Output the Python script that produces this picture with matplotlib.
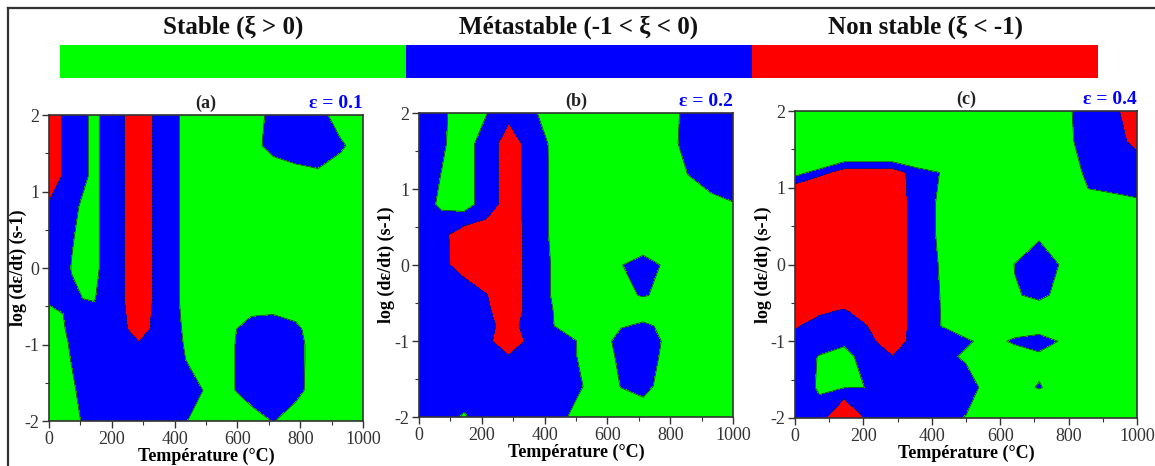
import matplotlib
matplotlib.use("Agg")
import matplotlib.pyplot as plt
from matplotlib.lines import Line2D
import numpy as np

# grid of the instability parameter xi
temps = [0, 71, 143, 214, 286, 357, 429, 500, 571, 643, 714, 786, 857, 929, 1000]
lograte = [2.0, 1.6, 1.2, 0.8, 0.4, 0.0, -0.4, -0.6, -0.8, -1.0, -1.2, -1.6, -2.0]

xi_01 = [
    [-1.5, -0.6, 0.2, -0.63, -1.66, -0.58, 0.14, 0.5, 0.5, 0.8, -0.5, -0.5, -0.4, 0.5, 0.5],
    [-1.5, -0.6, 0.2, -0.63, -1.66, -0.58, 0.14, 0.5, 0.5, 0.5, -0.5, -0.6, -0.6, -0.15, 0.5],
    [-1.5, -0.6, 0.2, -0.63, -1.66, -0.58, 0.14, 0.5, 0.5, 0.5, 0.9, 0.4, 0.2, 0.5, 0.5],
    [-0.9, -0.1, 0.2, -0.63, -1.66, -0.58, 0.14, 0.5, 0.5, 0.5, 0.5, 0.5, 0.5, 0.5, 0.5],
    [-0.5, -0.03, 0.2, -0.63, -1.66, -0.58, 0.14, 0.5, 0.5, 0.5, 0.5, 0.5, 0.5, 0.5, 0.5],
    [-0.5, 0.01, 0.2, -0.63, -1.66, -0.58, 0.14, 0.5, 0.5, 0.5, 0.5, 0.5, 0.5, 0.5, 0.5],
    [-0.2, -0.05, 0.05, -0.63, -1.66, -0.58, 0.14, 0.5, 0.5, 0.5, 0.5, 0.5, 0.5, 0.5, 0.5],
    [0.3, -0.175, -0.225, -0.565, -1.58, -0.54, 0.095, 0.5, 0.39, 0.1, 0.02, 0.2, 0.5, 0.5, 0.5],
    [0.8, -0.3, -0.5, -0.5, -1.5, -0.5, 0.05, 0.5, 0.28, -0.5, -0.5, -0.19, 0.5, 0.5, 0.5],
    [0.6, -0.09, -0.5, -0.5, -0.9, -0.5, 0.01, 0.5, 0.21, -0.5, -0.5, -0.35, 0.5, 0.5, 0.5],
    [0.5, -0.02, -0.5, -0.5, -0.5, -0.5, -0.05, 0.5, 0.21, -0.5, -0.5, -0.35, 0.5, 0.5, 0.5],
    [0.5, 0.125, -0.5, -0.5, -0.5, -0.5, -0.5, 0.08, 0.21, -0.5, -0.5, -0.3, 0.5, 0.5, 0.5],
    [0.5, 0.35, -0.5, -0.5, -0.5, -0.5, -0.1, 0.5, 0.5, 0.5, -0.05, 0.5, 0.5, 0.5, 0.5],
]

xi_02 = [
    [-0.5, -0.2, 0.5, 0.05, -0.8, -0.19, 0.5, 0.5, 0.5, 0.5, 0.5, 0.5, -0.31, -0.5, -0.5],
    [-0.5, -0.15, 0.5, -0.54, -1.4, -0.69, 0.235, 0.5, 0.5, 0.5, 0.5, 0.5, -0.41, -0.5, -0.5],
    [-0.5, 0.01, 0.5, -0.54, -1.4, -0.69, 0.2, 0.5, 0.5, 0.5, 0.5, 0.5, -0.02, -0.5, -0.5],
    [-0.5, 0.17, 0.5, -0.54, -1.4, -0.69, 0.2, 0.5, 0.5, 0.5, 0.5, 0.5, 0.5, 0.3, 0.04],
    [-0.5, -0.7, -1.6, -1.5, -1.5, -0.69, 0.2, 0.5, 0.5, 0.5, 1.25, 0.5, 0.5, 0.5, 0.5],
    [-0.5, -0.69, -1.5, -1.5, -1.5, -0.69, 0.11, 0.5, 0.5, 0.05, -0.6, 0.2, 0.5, 0.5, 0.5],
    [-0.5, -0.5, -0.3, -0.97, -1.5, -0.69, 0.11, 0.5, 0.5, 0.15, -0.05, 0.15, 0.5, 0.5, 0.5],
    [-0.5, -0.5, -0.4, -0.86, -1.5, -0.69, 0.02, 0.5, 0.5, 0.5, 0.5, 0.5, 0.5, 0.5, 0.5],
    [-0.5, -0.5, -0.5, -0.64, -1.5, -0.41, -0.01, 0.5, 0.5, 0.096, -0.17, 0.19, 0.5, 0.5, 0.5],
    [-0.5, -0.5, -0.5, -0.81, -1.5, -0.775, -0.5, -0.02, 0.72, -0.5, -0.5, 0.125, 0.5, 0.5, 0.5],
    [-0.5, -0.5, -0.5, -0.5, -0.98, -0.5, -0.5, -0.02, 0.5, -0.19, -0.5, 0.22, 0.5, 0.5, 0.5],
    [-0.5, -0.5, -0.5, -0.5, -0.5, -0.5, -0.5, -0.235, 0.5, -0.02, -0.5, 0.64, 0.5, 0.5, 0.5],
    [-0.5, -0.5, 0.1, -0.5, -0.5, -0.5, -0.5, 0.3, 0.5, 0.5, 0.93, 0.5, 0.5, 0.5, 0.5],
]

xi_04 = [
    [0.5, 0.5, 0.5, 0.5, 0.5, 0.5, 0.5, 0.5, 0.5, 0.5, 0.5, 0.3, -0.58, -0.69, -1.8],
    [0.5, 4.0, 3.0, 3.0, 3.0, 2.8, 0.5, 0.5, 0.5, 0.5, 0.5, 0.3, -0.43, -0.67, -1.24],
    [0.5, -0.5, -1.57, -1.57, -1.57, -0.5, 0.05, 0.5, 0.5, 0.5, 0.5, 0.5, -0.17, -0.5, -0.5],
    [-3.5, -4.5, -1.6, -1.6, -1.6, -0.6, 0.2, 0.5, 0.5, 0.5, 0.5, 0.5, 0.15, 0.24, 0.106],
    [-1.6, -1.6, -1.6, -1.6, -1.6, -0.6, 0.2, 0.5, 0.5, 0.5, 0.12, 0.5, 0.5, 0.5, 0.5],
    [-1.6, -1.6, -1.6, -1.6, -1.6, -0.6, 0.1, 0.5, 0.5, -0.02, -0.4, 0.1, 0.5, 0.5, 0.5],
    [-1.6, -1.6, -1.6, -1.6, -1.6, -0.6, 0.05, 0.5, 0.5, 0.04, -0.1, 0.14, 0.5, 0.5, 0.5],
    [-1.35, -1.15, -0.95, -1.31, -1.6, -0.6, 0.035, 0.5, 0.5, 0.27, 0.2, 0.32, 0.5, 0.5, 0.5],
    [-1.1, -0.7, -0.5, -1.02, -1.6, -0.6, 0.02, 0.5, 0.5, 0.5, 0.37, 0.5, 0.5, 0.5, 0.5],
    [-0.6, -0.5, -0.2, -0.8, -1.5, -0.6, -0.5, -0.135, 0.3, -0.15, -0.3, 0.095, 0.5, 0.5, 0.5],
    [-0.5, 0.05, 0.37, -0.51, -0.98, -0.5, -0.3, 0.15, 0.5, 0.5, 0.13, 0.5, 0.5, 0.5, 0.5],
    [-0.5, 0.1, 0.05, -0.01, -0.5, -0.5, -0.5, -0.5, 0.45, 0.15, -0.03, 0.2, 0.5, 0.5, 0.5],
    [-0.5, -0.32, -2.75, -0.74, -0.5, -0.5, -0.25, 0.05, 0.5, 0.5, 0.5, 0.5, 0.5, 0.5, 0.5],
]

panel_tags = ["(a)", "(b)", "(c)"]
strains = ["ε = 0.1", "ε = 0.2", "ε = 0.4"]

legend_labels = ["Stable (ξ > 0)", "Métastable (-1 < ξ < 0)", "Non stable (ξ < -1)"]
legend_colors = ["#00ff00", "#0000ff", "#ff0000"]

plt.rcParams["font.family"] = ["Liberation Serif", "DejaVu Serif"]
plt.rcParams["axes.unicode_minus"] = False
plt.rcParams["text.color"] = "#222222"
plt.rcParams["xtick.color"] = "#333333"
plt.rcParams["ytick.color"] = "#333333"

fig = plt.figure(figsize=(11.55, 4.66), dpi=100)

# frame lines at top and left of the picture
fig.add_artist(Line2D([8 / 1155, 1], [1 - 8 / 466, 1 - 8 / 466], transform=fig.transFigure,
                      color="#333333", lw=1.6))
fig.add_artist(Line2D([8 / 1155, 8 / 1155], [0, 1 - 8 / 466], transform=fig.transFigure,
                      color="#333333", lw=1.6))

# colour key
lax = fig.add_axes([60 / 1155, 1 - 78 / 466, 1038 / 1155, 33 / 466])
lax.bar(range(3), [1, 1, 1], width=1.0, color=legend_colors, align="center")
lax.set_xlim(-0.5, 2.5)
lax.set_ylim(0, 1)
lax.axis("off")
for i, lab in enumerate(legend_labels):
    lax.text(i, 1.55, lab, ha="center", va="center", fontsize=18, fontweight="bold",
             color="#111111", transform=lax.get_xaxis_transform())

boxes = [
    [49 / 1155, 1 - 421 / 466, 314 / 1155, 306 / 466],
    [419 / 1155, 1 - 417 / 466, 314 / 1155, 304 / 466],
    [795 / 1155, 1 - 418 / 466, 342 / 1155, 307 / 466],
]
ylab_x = [-0.07, -0.076, -0.067]

for k, (xi, box) in enumerate(zip([xi_01, xi_02, xi_04], boxes)):
    ax = fig.add_axes(box)
    T = np.array(temps)
    L = np.array(lograte)[::-1]
    Z = np.array(xi)[::-1]
    ax.contourf(T, L, Z, levels=[-100, -1, 0, 100], colors=legend_colors[::-1])
    ax.contour(T, L, Z, levels=[-1, 0], colors="#222222", linewidths=0.5)
    ax.set_xlim(0, 1000)
    ax.set_ylim(-2, 2)
    ax.set_xticks([0, 200, 400, 600, 800, 1000])
    ax.set_xticks([100, 300, 500, 700, 900], minor=True)
    ax.set_yticks([-2, -1, 0, 1, 2])
    ax.set_yticks([-1.5, -0.5, 0.5, 1.5], minor=True)
    ax.tick_params(which="major", length=5, width=1, labelsize=13, pad=2)
    ax.tick_params(which="minor", length=3, width=0.8)
    for s in ax.spines.values():
        s.set_linewidth(1.2)
        s.set_color("#333333")
    ax.set_xlabel("Température (°C)", fontsize=13, fontweight="bold", labelpad=0)
    ax.set_ylabel("log (dε/dt) (s-1)", fontsize=13, fontweight="bold")
    ax.yaxis.set_label_coords(ylab_x[k], 0.5)
    ax.text(0.5, 1.01, panel_tags[k], transform=ax.transAxes, ha="center", va="bottom",
            fontsize=13, fontweight="bold")
    ax.text(1.0, 1.01, strains[k], transform=ax.transAxes, ha="right", va="bottom",
            fontsize=14, fontweight="bold", color="#0000ff")

fig.savefig("out.png", dpi=100)
